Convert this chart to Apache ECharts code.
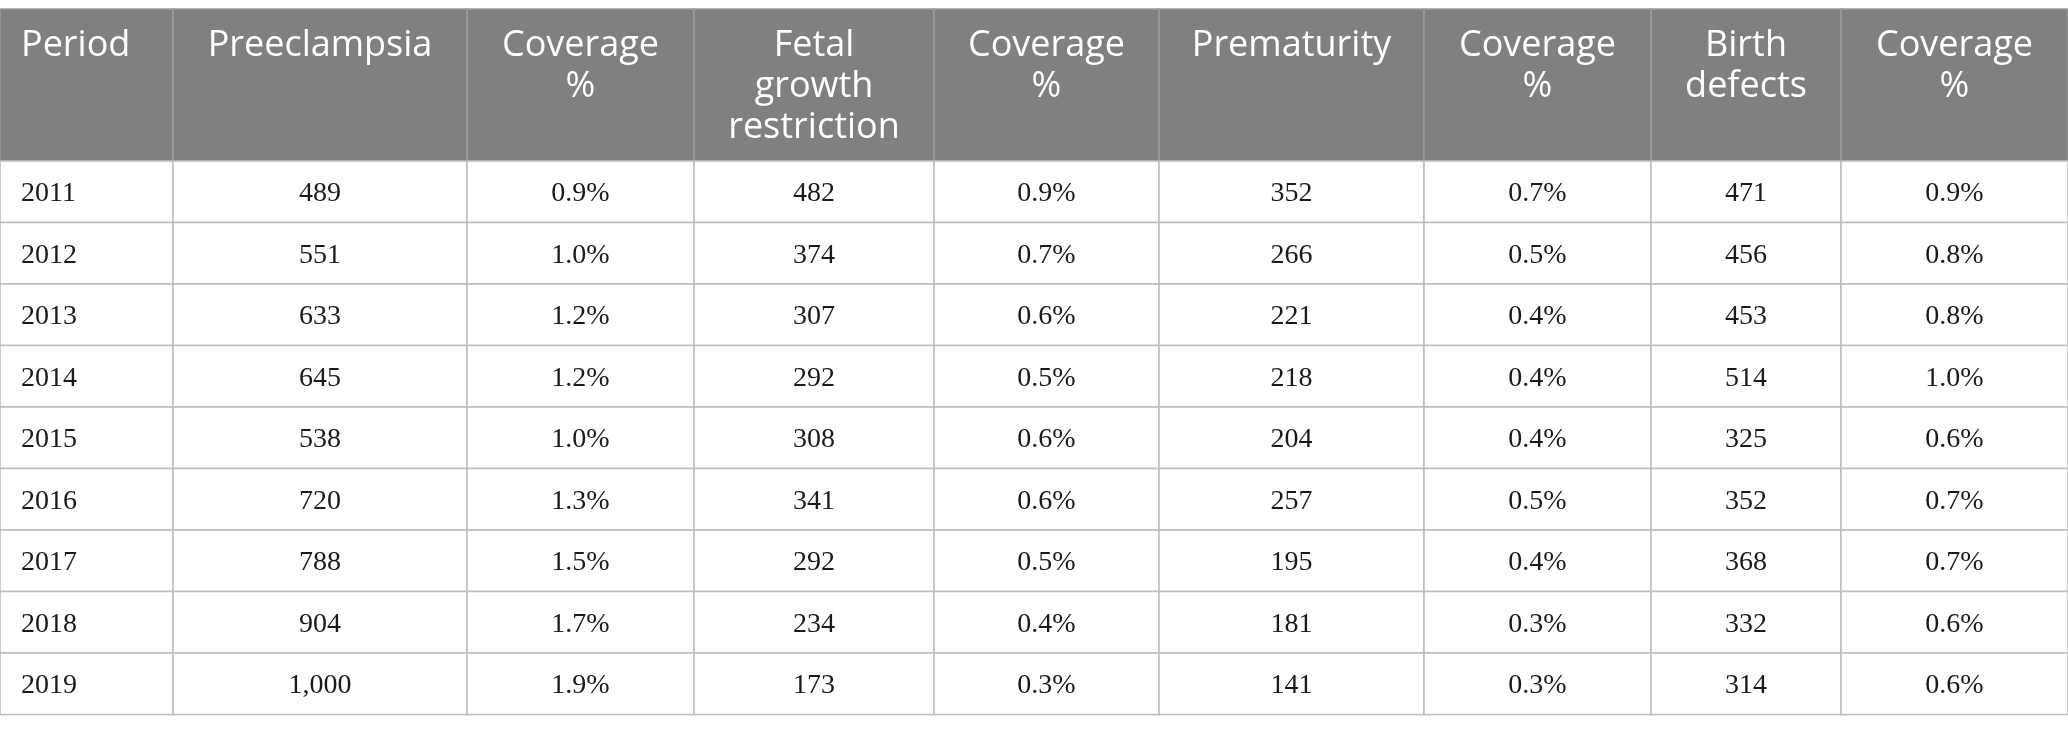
<!DOCTYPE html>
<html>
<head>
<meta charset="utf-8">
<title>Adverse outcomes by period</title>
<script src="https://cdn.jsdelivr.net/npm/echarts@6/dist/echarts.min.js"></script>
<style>
  html, body { margin: 0; padding: 0; background: #fff; }
  #J_table { width: 2068px; height: 729px; }
</style>
</head>
<body>
<div id="J_table"></div>
<script>
// table content
var headers = ['Period', 'Preeclampsia', 'Coverage\n%', 'Fetal\ngrowth\nrestriction', 'Coverage\n%',
               'Prematurity', 'Coverage\n%', 'Birth\ndefects', 'Coverage\n%'];
var periods = ['2011', '2012', '2013', '2014', '2015', '2016', '2017', '2018', '2019'];
var preeclampsia = [489, 551, 633, 645, 538, 720, 788, 904, 1000];
var preeclampsiaPct = [0.9, 1.0, 1.2, 1.2, 1.0, 1.3, 1.5, 1.7, 1.9];
var fetalGrowth = [482, 374, 307, 292, 308, 341, 292, 234, 173];
var fetalGrowthPct = [0.9, 0.7, 0.6, 0.5, 0.6, 0.6, 0.5, 0.4, 0.3];
var prematurity = [352, 266, 221, 218, 204, 257, 195, 181, 141];
var prematurityPct = [0.7, 0.5, 0.4, 0.4, 0.4, 0.5, 0.4, 0.3, 0.3];
var birthDefects = [471, 456, 453, 514, 325, 352, 368, 332, 314];
var birthDefectsPct = [0.9, 0.8, 0.8, 1.0, 0.6, 0.7, 0.7, 0.6, 0.6];

// layout: column edges and row heights in axis units
var colEdges = [0, 173, 467, 694, 934, 1159, 1424, 1651, 1841, 2068];
var headerHeight = 152;
var rowHeight = 61.5;

var fmtCount = function (v) { return v.toLocaleString('en-US'); };
var fmtPct = function (v) { return v.toFixed(1) + '%'; };

var columns = [
    periods,
    preeclampsia.map(fmtCount), preeclampsiaPct.map(fmtPct),
    fetalGrowth.map(fmtCount), fetalGrowthPct.map(fmtPct),
    prematurity.map(fmtCount), prematurityPct.map(fmtPct),
    birthDefects.map(fmtCount), birthDefectsPct.map(fmtPct)
];

var rowTop = function (r) { return r === 0 ? 0 : headerHeight + (r - 1) * rowHeight; };
var rowBottom = function (r) { return headerHeight + r * rowHeight; };
var tableHeight = rowBottom(periods.length);

// cells: [col, row, text]
var cells = [];
for (var c = 0; c < headers.length; c++) {
    cells.push([c, 0, headers[c]]);
    for (var r = 0; r < periods.length; r++) {
        cells.push([c, r + 1, columns[c][r]]);
    }
}

var chart = echarts.init(document.getElementById('J_table'));

var renderCell = function (params, api) {
    var c = api.value(0), r = api.value(1);
    var text = cells[params.dataIndex][2];
    var p0 = api.coord([colEdges[c], rowTop(r)]);
    var p1 = api.coord([colEdges[c + 1], rowBottom(r)]);
    var isHead = r === 0;
    var alignLeft = c === 0;
    var tx = alignLeft ? p0[0] + 21 : (p0[0] + p1[0]) / 2;
    var ty = isHead ? p0[1] + 16 : (p0[1] + p1[1]) / 2 + 2;
    return {
        type: 'group',
        children: [{
            type: 'rect',
            shape: { x: p0[0], y: p0[1], width: p1[0] - p0[0], height: p1[1] - p0[1] },
            style: { fill: isHead ? '#7f817f' : '#ffffff', stroke: isHead ? '#9a9c9a' : '#bdbdbd', lineWidth: 1.5 }
        }, {
            type: 'text',
            x: tx,
            y: ty,
            style: {
                text: text,
                fill: isHead ? '#ffffff' : '#1a1a1a',
                font: isHead ? '36px "Open Sans"' : '28px "Liberation Serif"',
                lineHeight: 41,
                align: alignLeft ? 'left' : 'center',
                verticalAlign: isHead ? 'top' : 'middle'
            }
        }]
    };
};

chart.setOption({
    animation: false,
    grid: { left: 0, right: 0, top: 9, bottom: 729 - 9 - tableHeight },
    xAxis: { type: 'value', min: 0, max: colEdges[colEdges.length - 1], show: false },
    yAxis: { type: 'value', min: 0, max: tableHeight, inverse: true, show: false },
    series: [{
        type: 'custom',
        renderItem: renderCell,
        encode: { x: 0, y: 1 },
        data: cells.map(function (d) { return [d[0], d[1]]; })
    }]
});
</script>
</body>
</html>
